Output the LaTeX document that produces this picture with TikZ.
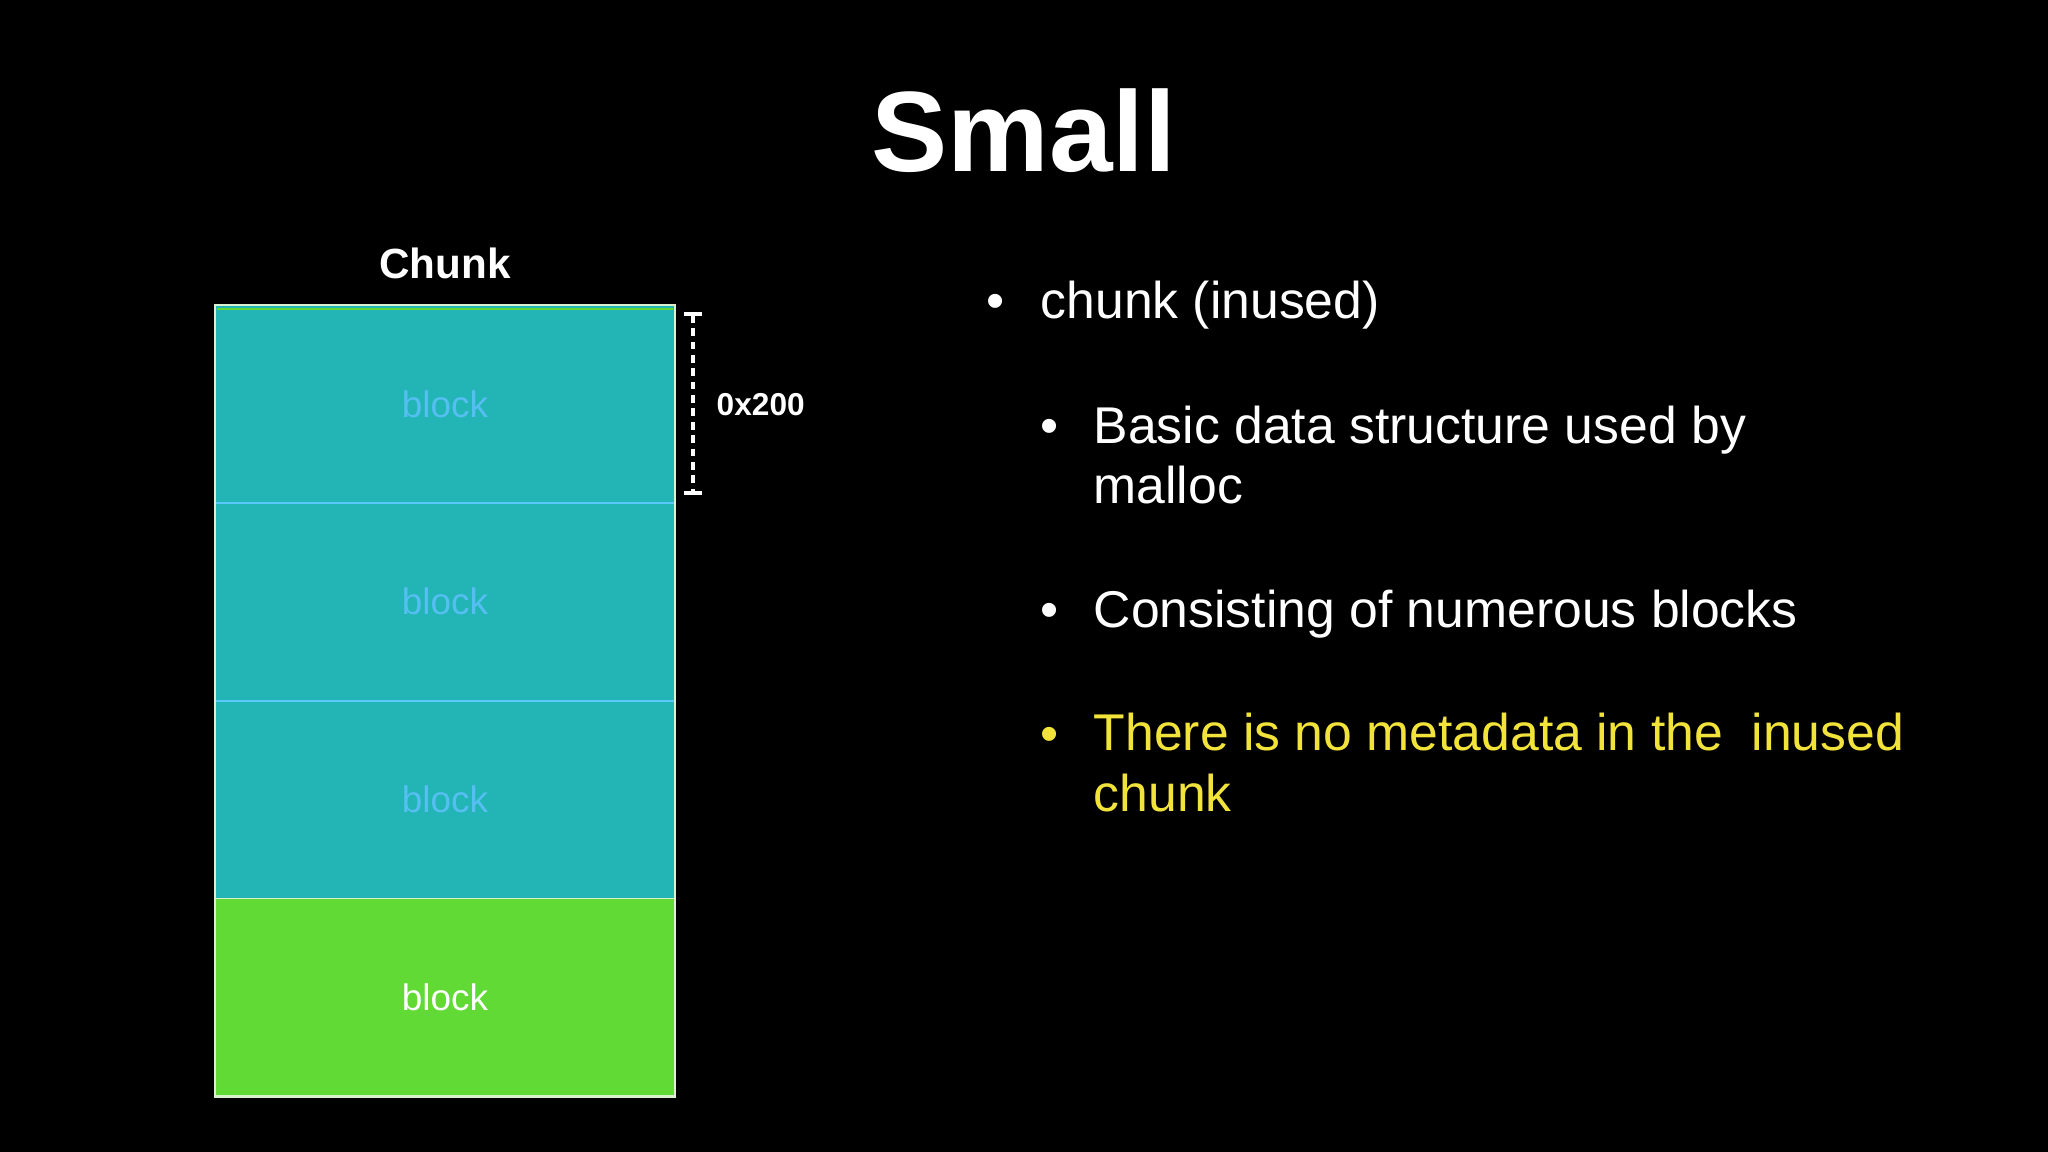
\documentclass[tikz,border=0pt]{standalone}
\usepackage{fontspec}
\setmainfont{Liberation Sans}
\usetikzlibrary{positioning,arrows.meta}
\definecolor{slide}{HTML}{000000}
\definecolor{used}{HTML}{23B4B5}
\definecolor{usedtext}{HTML}{55BFF2}
\definecolor{divider}{HTML}{5AC8FA}
\definecolor{chunkrim}{HTML}{D8F2D0}
\definecolor{free}{HTML}{62DA35}
\definecolor{note}{HTML}{F2E33A}
\tikzset{
  blk/.style     = {fill=used, draw=divider, line width=0.5pt, inner sep=0pt, outer sep=0pt,
                    minimum width=4.595cm, minimum height=1.9775cm,
                    text=usedtext, font=\fontsize{10.5}{12}\selectfont},
  freeblk/.style = {blk, fill=free, draw=chunkrim, text=white},
  rim/.style     = {draw=chunkrim, line width=0.7pt},
  sizebar/.style = {{Bar[width=5pt]}-{Bar[width=5pt]}, draw=white, line width=1.1pt,
                    dash pattern=on 2.2pt off 1.6pt},
  pip/.style     = {anchor=base, inner sep=0pt, text=white, font=\fontsize{14.7}{17.1}\selectfont},
  item/.style    = {anchor=base west, inner sep=0pt, text=white, align=left,
                    font=\fontsize{14.7}{17.1}\selectfont},
}
\begin{document}
\begin{tikzpicture}[x=0.01cm,y=-0.01cm]
  \useasboundingbox (0,0) rectangle (2048,1152);
  \fill[slide] (0,0) rectangle (2048,1152);
  \node[text=white,anchor=base,font=\fontsize{32.5}{38}\selectfont\bfseries] (ttl) at (1024,172) {Small};
  % chunk made of blocks
  \node[blk] (b1) at (445,403.9) {block};
  \node[blk,below=0pt of b1] (b2) {block};
  \node[blk,below=0pt of b2] (b3) {block};
  \node[freeblk,below=0pt of b3] (b4) {block};
  \draw[rim] (b1.north west) rectangle (b4.south east);
  \draw[draw=free,line width=0.6pt] ([shift={(2,4)}]b1.north west) -- ([shift={(-2,4)}]b1.north east);
  \node[text=white,anchor=base,font=\fontsize{12}{14}\selectfont\bfseries] (chk) at (445,279) {Chunk};
  % size of one block
  \coordinate (szt) at (693,312);
  \coordinate (szb) at (693,495);
  \draw[sizebar] (szt) -- (szb);
  \node[text=white,anchor=west,inner sep=0pt,font=\fontsize{9}{11}\selectfont\bfseries] (sz) at (716,405) {0x200};
  % bullet list (base of a two-line item is its last line)
  \node[pip] (p1) at (996,319) {•};
  \node[item] (t1) at (1040,319) {chunk (inused)};
  \node[pip] (p2) at (1050,444) {•};
  \node[item] (t2) at (1093,504) {Basic data structure used by\\malloc};
  \node[pip] (p3) at (1050,627) {•};
  \node[item] (t3) at (1093,627) {Consisting of numerous blocks};
  \node[pip,text=note] (p4) at (1050,751) {•};
  \node[item,text=note] (t4) at (1093,811) {There is no metadata in the\ \ inused\\chunk};
\end{tikzpicture}
\end{document}
